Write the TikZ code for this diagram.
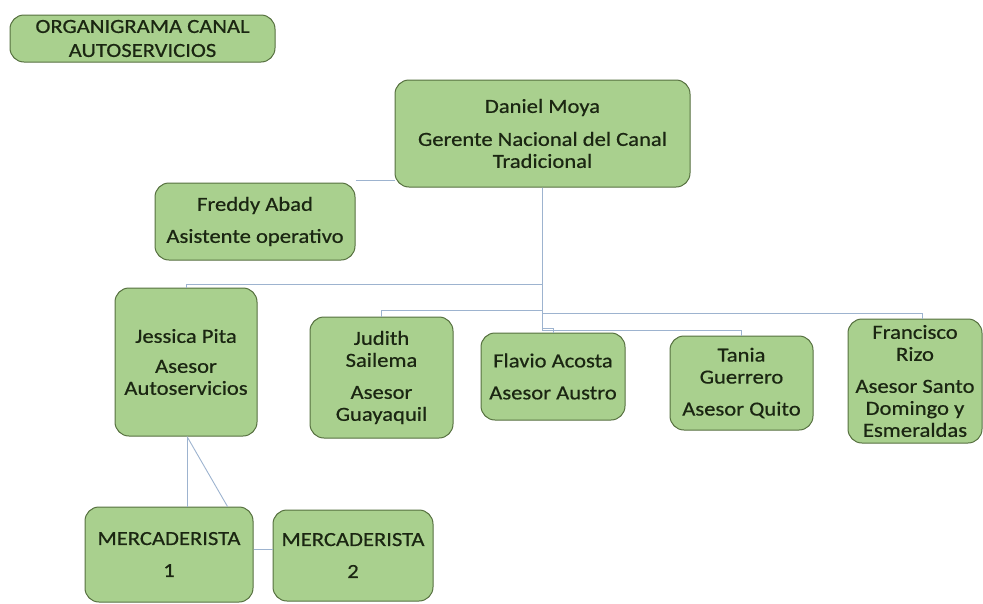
\documentclass[tikz,border=0pt]{standalone}
\usepackage{fontspec}
\setmainfont{Carlito}[FakeStretch=1.13,FakeBold=0.6]
\definecolor{boxfill}{HTML}{A9D08E}
\definecolor{boxline}{HTML}{56703F}
\definecolor{boxtext}{HTML}{1B2612}
\definecolor{linkline}{HTML}{9DB3CF}

\begin{document}
\begin{tikzpicture}[x=1pt, y=-1pt,
    box/.style={rectangle, rounded corners=14pt, draw=boxline, fill=boxfill,
    line width=1pt, align=center, inner sep=0pt, text=boxtext,
    font=\fontsize{20}{22}\selectfont},
    link/.style={draw=linkline, line width=0.9pt}]
    \useasboundingbox (0,0) rectangle (983,603);
    \node[box,minimum width=265pt,minimum height=47pt] (title) at (142.5,38.5) {ORGANIGRAMA CANAL\\[2pt]AUTOSERVICIOS};
    \node[box,minimum width=295pt,minimum height=107pt] (moya) at (542.5,133.5) {Daniel Moya\\[11pt]Gerente Nacional del Canal\\Tradicional};
    \node[box,minimum width=200pt,minimum height=77pt] (abad) at (255,221.5) {Freddy Abad\\[10pt]Asistente operativo};
    \node[box,minimum width=142pt,minimum height=148pt] (pita) at (186,362) {Jessica Pita\\[8pt]Asesor\\Autoservicios};
    \node[box,minimum width=143pt,minimum height=121pt] (sailema) at (381.5,377.5) {Judith\\Sailema\\[10pt]Asesor\\Guayaquil};
    \node[box,minimum width=144pt,minimum height=87pt] (acosta) at (553,376.5) {Flavio Acosta\\[10pt]Asesor Austro};
    \node[box,minimum width=143pt,minimum height=94pt] (guerrero) at (741.5,383) {Tania\\Guerrero\\[10pt]Asesor Quito};
    \node[box,minimum width=134pt,minimum height=124pt] (rizo) at (915,381) {Francisco\\Rizo\\[10pt]Asesor Santo\\Domingo y\\Esmeraldas};
    \node[box,minimum width=168pt,minimum height=95pt] (merc1) at (169,554.5) {MERCADERISTA\\[10pt]1};
    \node[box,minimum width=160pt,minimum height=91pt] (merc2) at (353,555.5) {MERCADERISTA\\[10pt]2};
    \draw[link] ([yshift=2pt]abad.north east) -- ([yshift=2pt]abad.north east -| moya.west);
    \draw[link] (moya.south) |- (pita.north |- 0,284) -- (pita.north);
    \draw[link] (moya.south) |- (sailema.north |- 0,310) -- (sailema.north);
    \draw[link] (moya.south) |- ([xshift=7pt]rizo.north |- 0,313) -- ([xshift=7pt]rizo.north);
    \draw[link] (moya.south) |- (guerrero.north |- 0,330) -- (guerrero.north);
    \draw[link] (moya.south) |- (acosta.north |- 0,328) -- (acosta.north);
    \draw[link] ([xshift=1pt]pita.south) -- ([xshift=1pt]pita.south |- merc1.north);
    \draw[link] ([xshift=1pt]pita.south) -- ([xshift=-26pt]merc1.north east);
    \draw[link] ([yshift=5pt]merc1.east) -- ([yshift=5pt]merc1.east -| merc2.west);
\end{tikzpicture}
\end{document}
